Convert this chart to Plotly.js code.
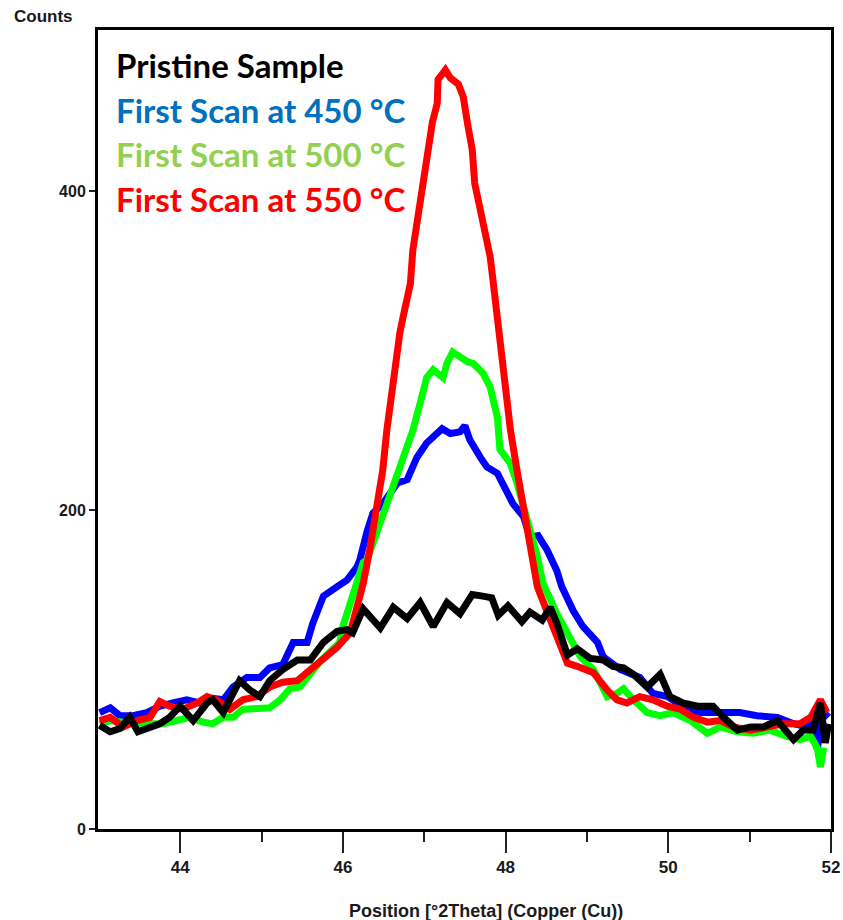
<!DOCTYPE html>
<html>
<head>
<meta charset="utf-8">
<script src="https://cdn.plot.ly/plotly-3.0.1.min.js"></script>
<style>
html,body{margin:0;padding:0;background:#fff;}
#chart{width:843px;height:920px;}
</style>
</head>
<body>
<div id="chart"></div>
<script>
// Pristine sample (black)
const xPristine = [43.01,43.14,43.26,43.38,43.48,43.63,43.75,43.87,44.00,44.16,44.33,44.40,44.53,44.73,44.86,44.98,45.10,45.26,45.44,45.60,45.76,45.93,46.05,46.12,46.25,46.46,46.62,46.79,46.95,47.11,47.28,47.44,47.59,47.72,47.83,47.91,48.03,48.20,48.30,48.45,48.55,48.63,48.76,48.88,49.04,49.20,49.32,49.45,49.57,49.74,49.90,50.02,50.18,50.36,50.55,50.68,50.85,51.01,51.17,51.34,51.54,51.66,51.78,51.87,51.93,51.97];
const yPristine = [65,61,63,70,61,64,66,70,77,68,79,81,73,93,87,83,93,100,106,106,117,124,125,123,138,126,139,132,142,127,142,135,147,146,145,134,140,130,136,131,139,129,109,113,107,106,102,101,97,89,97,83,79,77,77,70,62,64,64,68,56,62,62,79,54,66];

// First scan at 450 °C (blue)
const x450 = [43.01,43.14,43.26,43.42,43.59,43.75,43.91,44.08,44.24,44.40,44.53,44.65,44.82,44.98,45.10,45.26,45.39,45.56,45.63,45.76,45.93,46.05,46.17,46.21,46.30,46.37,46.49,46.67,46.79,46.91,47.03,47.16,47.22,47.32,47.44,47.50,47.56,47.69,47.77,47.90,48.02,48.09,48.22,48.30,48.40,48.51,48.63,48.69,48.83,48.95,49.13,49.20,49.41,49.65,49.81,49.99,50.23,50.39,50.64,50.88,51.09,51.34,51.54,51.71,51.78,51.83,51.91,51.97];
const y450 = [73,76,71,71,73,77,79,81,79,82,81,89,95,95,101,103,117,117,129,146,152,156,164,169,187,198,204,217,219,233,242,248,251,248,249,253,244,233,227,223,211,204,196,183,184,175,162,152,137,127,117,108,100,95,85,83,75,73,73,73,71,70,66,64,70,50,73,70];

// First scan at 500 °C (green)
const x500 = [43.01,43.14,43.30,43.47,43.63,43.79,43.96,44.12,44.28,44.40,44.53,44.65,44.77,44.94,45.10,45.23,45.35,45.47,45.60,45.72,45.84,45.96,46.00,46.09,46.17,46.25,46.30,46.42,46.54,46.67,46.79,46.86,46.95,47.03,47.11,47.23,47.28,47.35,47.44,47.53,47.60,47.72,47.81,47.90,47.93,48.06,48.14,48.22,48.30,48.39,48.46,48.51,48.63,48.79,48.92,49.08,49.25,49.37,49.45,49.57,49.74,49.90,50.06,50.27,50.48,50.64,50.85,51.04,51.25,51.46,51.62,51.75,51.83,51.87,51.91];
const y500 = [66,68,67,66,66,66,68,70,67,66,70,70,75,76,76,81,88,89,98,105,111,117,127,142,154,167,169,187,204,223,240,250,267,283,288,283,292,299,296,293,292,286,277,258,238,229,217,202,189,171,154,148,135,120,108,100,83,85,88,81,73,71,73,68,60,64,61,60,62,58,56,58,51,39,51];

// First scan at 550 °C (red)
const x550 = [43.01,43.14,43.30,43.47,43.63,43.75,43.87,44.03,44.21,44.33,44.45,44.61,44.77,44.94,45.10,45.26,45.44,45.60,45.76,45.93,46.09,46.17,46.25,46.33,46.42,46.49,46.54,46.60,46.64,46.70,46.74,46.83,46.86,46.92,46.99,47.05,47.10,47.16,47.17,47.26,47.32,47.42,47.48,47.53,47.59,47.62,47.69,47.75,47.81,47.85,47.90,47.93,47.97,48.06,48.14,48.22,48.30,48.39,48.42,48.55,48.67,48.76,48.88,49.08,49.25,49.37,49.49,49.65,49.81,49.99,50.15,50.31,50.48,50.64,50.80,51.01,51.22,51.41,51.62,51.75,51.87,51.95];
const y550 = [68,70,64,68,70,80,77,75,79,83,81,75,81,83,89,92,93,100,106,114,123,137,154,175,200,225,250,275,292,311,321,342,363,384,405,426,443,455,470,476,471,467,459,443,426,405,388,371,359,342,321,305,286,250,225,200,177,152,148,131,114,104,102,98,87,81,79,83,81,77,75,70,67,68,64,62,64,66,66,70,81,73];

const legendLabels = ["Pristine Sample", "First Scan at 450 °C", "First Scan at 500 °C", "First Scan at 550 °C"];
const legendColors = ["#000000", "#0070C0", "#92D050", "#FF0000"];
const xTicks = [44, 46, 48, 50, 52];
const xMinorTicks = [45, 47, 49, 51];
const yTicks = [0, 200, 400];

const lw = 7;
const traces = [
  {x: x450, y: y450, name: legendLabels[1], mode: "lines", line: {color: "#0000FF", width: lw}},
  {x: x500, y: y500, name: legendLabels[2], mode: "lines", line: {color: "#00FF00", width: lw}},
  {x: x550, y: y550, name: legendLabels[3], mode: "lines", line: {color: "#FF0000", width: lw}},
  {x: xPristine, y: yPristine, name: legendLabels[0], mode: "lines", line: {color: "#000000", width: lw}}
];

const legendY = [0.956, 0.9, 0.845, 0.789];
const annotations = legendLabels.map((t, i) => ({
  text: "<b>" + t + "</b>", xref: "paper", yref: "paper", x: 0.0215, y: legendY[i],
  xanchor: "left", yanchor: "middle", showarrow: false,
  font: {family: "Lato, 'Open Sans', sans-serif", size: 33, color: legendColors[i]}
}));
annotations.push({
  text: "<b>Counts</b>", xref: "paper", yref: "paper", x: -0.1173, y: 1.0169,
  xanchor: "left", yanchor: "middle", showarrow: false,
  font: {family: "'Liberation Sans', Arial, sans-serif", size: 17, color: "#1a1a1a"}
});
annotations.push({
  text: "<b>Position [°2Theta] (Copper (Cu))</b>", xref: "paper", yref: "paper", x: 0.530, y: -0.1026,
  xanchor: "center", yanchor: "middle", showarrow: false,
  font: {family: "'Liberation Sans', Arial, sans-serif", size: 18, color: "#1a1a1a"}
});

const layout = {
  width: 843, height: 920,
  margin: {l: 98, r: 12, t: 30, b: 91},
  paper_bgcolor: "#fff", plot_bgcolor: "#fff",
  showlegend: false,
  xaxis: {
    range: [42.99, 52.0], tickvals: xTicks, ticktext: xTicks.map(v => "<b>" + v + "</b>"),
    ticks: "outside", ticklen: 21, tickwidth: 2, tickcolor: "#222",
    minor: {tickvals: xMinorTicks, ticks: "outside", ticklen: 10, tickwidth: 2, tickcolor: "#222"},
    showline: true, linewidth: 3, linecolor: "#000", mirror: true,
    showgrid: false, zeroline: false,
    tickfont: {family: "'Liberation Sans', Arial, sans-serif", size: 17, color: "#1a1a1a"}
  },
  yaxis: {
    range: [0, 501], tickvals: yTicks, ticktext: yTicks.map(v => "<b>" + v + "</b>"),
    ticks: "outside", ticklen: 6, tickwidth: 2, tickcolor: "#222",
    showline: true, linewidth: 3, linecolor: "#000", mirror: true,
    showgrid: false, zeroline: false,
    tickfont: {family: "'Liberation Sans', Arial, sans-serif", size: 16, color: "#1a1a1a"}
  },
  annotations: annotations
};

Plotly.newPlot("chart", traces, layout, {displayModeBar: false, staticPlot: true});
</script>
</body>
</html>
